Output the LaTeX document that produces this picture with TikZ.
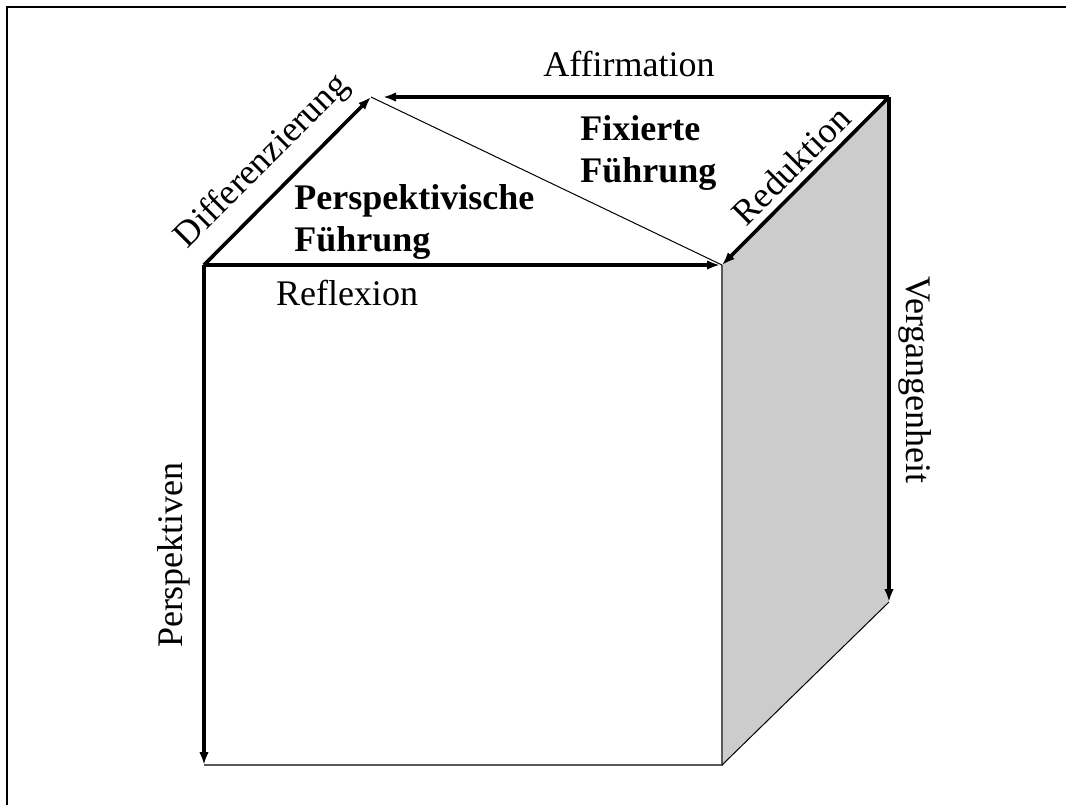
\documentclass[tikz,border=0pt]{standalone}
\usepackage{fontspec}
\setmainfont{Liberation Serif}
\usetikzlibrary{arrows.meta, positioning, calc}

\begin{document}
\begin{tikzpicture}[x=0.5pt, y=-0.5pt,
    dimarrow/.style={line width=1.8pt, -{Latex[length=6.5pt, width=4.8pt]}},
    rim/.style={line width=0.7pt, draw=black!65},
    lbl/.style={font=\fontsize{18}{21}\selectfont, inner sep=0pt, anchor=base},
    facelbl/.style={font=\fontsize{18}{21}\selectfont\bfseries, inner sep=0pt, align=left, anchor=north west}]
    \useasboundingbox (0,0) rectangle (1066,805);
    \draw[line width=0.8pt] (7,805) -- (7,7) -- (1066,7);

    % corners of the cube
    \coordinate (ftl) at (204,265);
    \coordinate (ftr) at (722,265);
    \coordinate (fbl) at (204,765);
    \coordinate (fbr) at (722,765);
    \coordinate (btl) at (371,97);
    \coordinate (btr) at (889,97);
    \coordinate (bbr) at (889,602);

    % right face and thin edges
    \fill[gray!40] (ftr) -- (btr) -- (bbr) -- (fbr) -- cycle;
    \draw[rim] (ftr) -- (fbr) -- (fbl);
    \draw[line width=0.5pt] (fbr) -- (bbr);
    \draw[line width=0.5pt] (btl) -- (ftr);

    % dimensions
    \draw[dimarrow, shorten >=6pt] (btr) -- (btl);
    \draw[dimarrow] (ftl) -- (btl);
    \draw[dimarrow, shorten >=1pt] (ftl) -- (ftr);
    \draw[dimarrow] (btr) -- (ftr);
    \draw[dimarrow] (ftl) -- (fbl);
    \draw[dimarrow] (btr) -- (bbr);

    % labels
    \node[lbl] (aff) at (629,76) {Affirmation};
    \node[lbl] (refl) at (347,305) {Reflexion};
    \node[lbl, rotate=45] (diff) at (269,168) {Differenzierung};
    \node[lbl, rotate=45] (red) at (800,174) {Reduktion};
    \node[lbl, rotate=90] (persp) at (182,555) {Perspektiven};
    \node[lbl, rotate=-90] (verg) at (906,380) {Vergangenheit};
    \node[facelbl] (pfuehr) at (294,184) {Perspektivische\\Führung};
    \node[facelbl] (ffuehr) at (580,115) {Fixierte\\Führung};
\end{tikzpicture}
\end{document}
